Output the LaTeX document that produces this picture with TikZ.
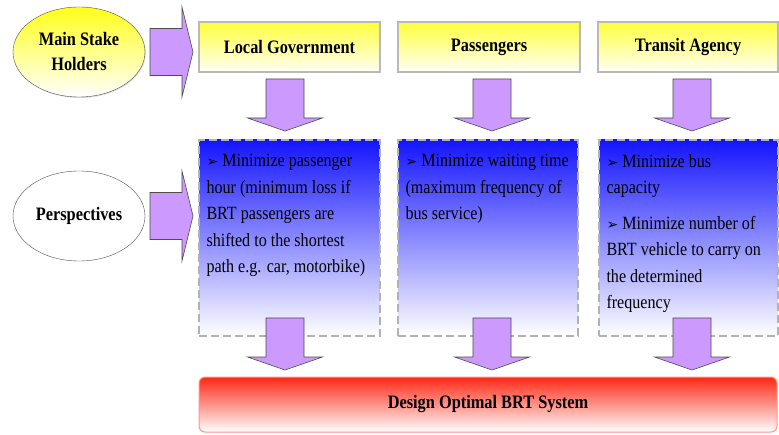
\documentclass[tikz,border=0pt]{standalone}
\usepackage{fontspec}
\setmainfont{Liberation Serif}[FakeStretch=0.86]
\newfontfamily\symfont{DejaVu Sans}
\usetikzlibrary{shadows,shapes.geometric}
\definecolor{arrowfill}{RGB}{204,153,255}
\definecolor{headyellow}{RGB}{255,255,60}
\definecolor{persblue}{RGB}{20,20,255}
\definecolor{designred}{RGB}{255,40,20}
\definecolor{designborder}{RGB}{250,150,140}

\newcommand{\bul}{{\symfont\fontsize{14}{14}\selectfont ➢}\ }

\tikzset{
    stake/.style={ellipse, draw=black!70, minimum width=132pt, minimum height=90pt,
        font=\fontsize{19}{22}\selectfont\bfseries, align=center},
    head/.style={draw=gray!55, line width=1.2pt, minimum height=50pt,
        top color=headyellow, bottom color=yellow!3, font=\fontsize{19}{22}\selectfont\bfseries,
        drop shadow={shadow xshift=1.2pt, shadow yshift=-1.2pt, opacity=0.25}},
    pers/.style={draw=gray!60, dash pattern=on 8pt off 4pt, line width=1.4pt,
        minimum height=196pt, top color=persblue, bottom color=white},
    perstext/.style={anchor=north west, align=left,
        font=\fontsize{18.7}{26.5}\selectfont, inner sep=0pt},
    blockarrow/.style={fill=arrowfill, draw=black!70, line width=0.6pt},
    downblock/.pic={\path[blockarrow] (-19,0) -- (19,0) -- (19,-39) -- (37.5,-39)
        -- (0,-52) -- (-37.5,-39) -- (-19,-39) -- cycle;},
    rightblock/.pic={\path[blockarrow] (0,23.5) -- (32,23.5) -- (32,45) -- (43,0)
        -- (32,-45) -- (32,-23.5) -- (0,-23.5) -- cycle;}
}

\begin{document}
\begin{tikzpicture}[x=1pt, y=1pt]
    \useasboundingbox (0,0) rectangle (779,434);
    % stake holders row
    \node[stake, top color=yellow!90, bottom color=white,
        drop shadow={shadow xshift=1pt, shadow yshift=-1pt, opacity=0.25}] (holders) at (79,382) {Main Stake\\[3pt]Holders};
    \node[head, minimum width=181pt] (gov) at (289.5,387) {Local Government};
    \node[head, minimum width=182pt] (pass) at (489,387) {Passengers};
    \node[head, minimum width=180pt] (agency) at (688,387) {Transit Agency};
    \pic at (150,382) {rightblock};

    % perspectives row
    \node[stake, fill=white] (persp) at (79,218) {Perspectives};
    \node[pers, minimum width=181pt] (box1) at (289.5,196) {};
    \node[pers, minimum width=180pt] (box2) at (488,196) {};
    \node[pers, minimum width=179pt] (box3) at (688.5,196) {};
    \pic at (150,218) {rightblock};

    \node[perstext] (box1-text) at ([shift={(8pt,-15pt)}]box1.north west)
        {\bul Minimize passenger\\hour (minimum loss if\\BRT passengers are\\shifted to the shortest\\path e.g. car, motorbike)};
    \node[perstext] (box2-text) at ([shift={(8pt,-15pt)}]box2.north west)
        {\bul Minimize waiting time\\(maximum frequency of\\bus service)};
    \node[perstext] (box3-text) at ([shift={(8pt,-15pt)}]box3.north west)
        {\bul Minimize bus\\capacity\\[9pt]\bul Minimize number of\\BRT vehicle to carry on\\the determined\\frequency};

    % arrows between rows
    \foreach \cx in {285,492,692} {
        \pic at (\cx,355) {downblock};
        \pic at (\cx,116) {downblock};
    }

    % result
    \node[draw=designborder, line width=1pt, rounded corners=6pt, minimum width=578pt, minimum height=55pt,
        top color=designred, bottom color=white, font=\fontsize{19}{22}\selectfont\bfseries] (design) at (488,29.5) {Design Optimal BRT System};
\end{tikzpicture}
\end{document}
